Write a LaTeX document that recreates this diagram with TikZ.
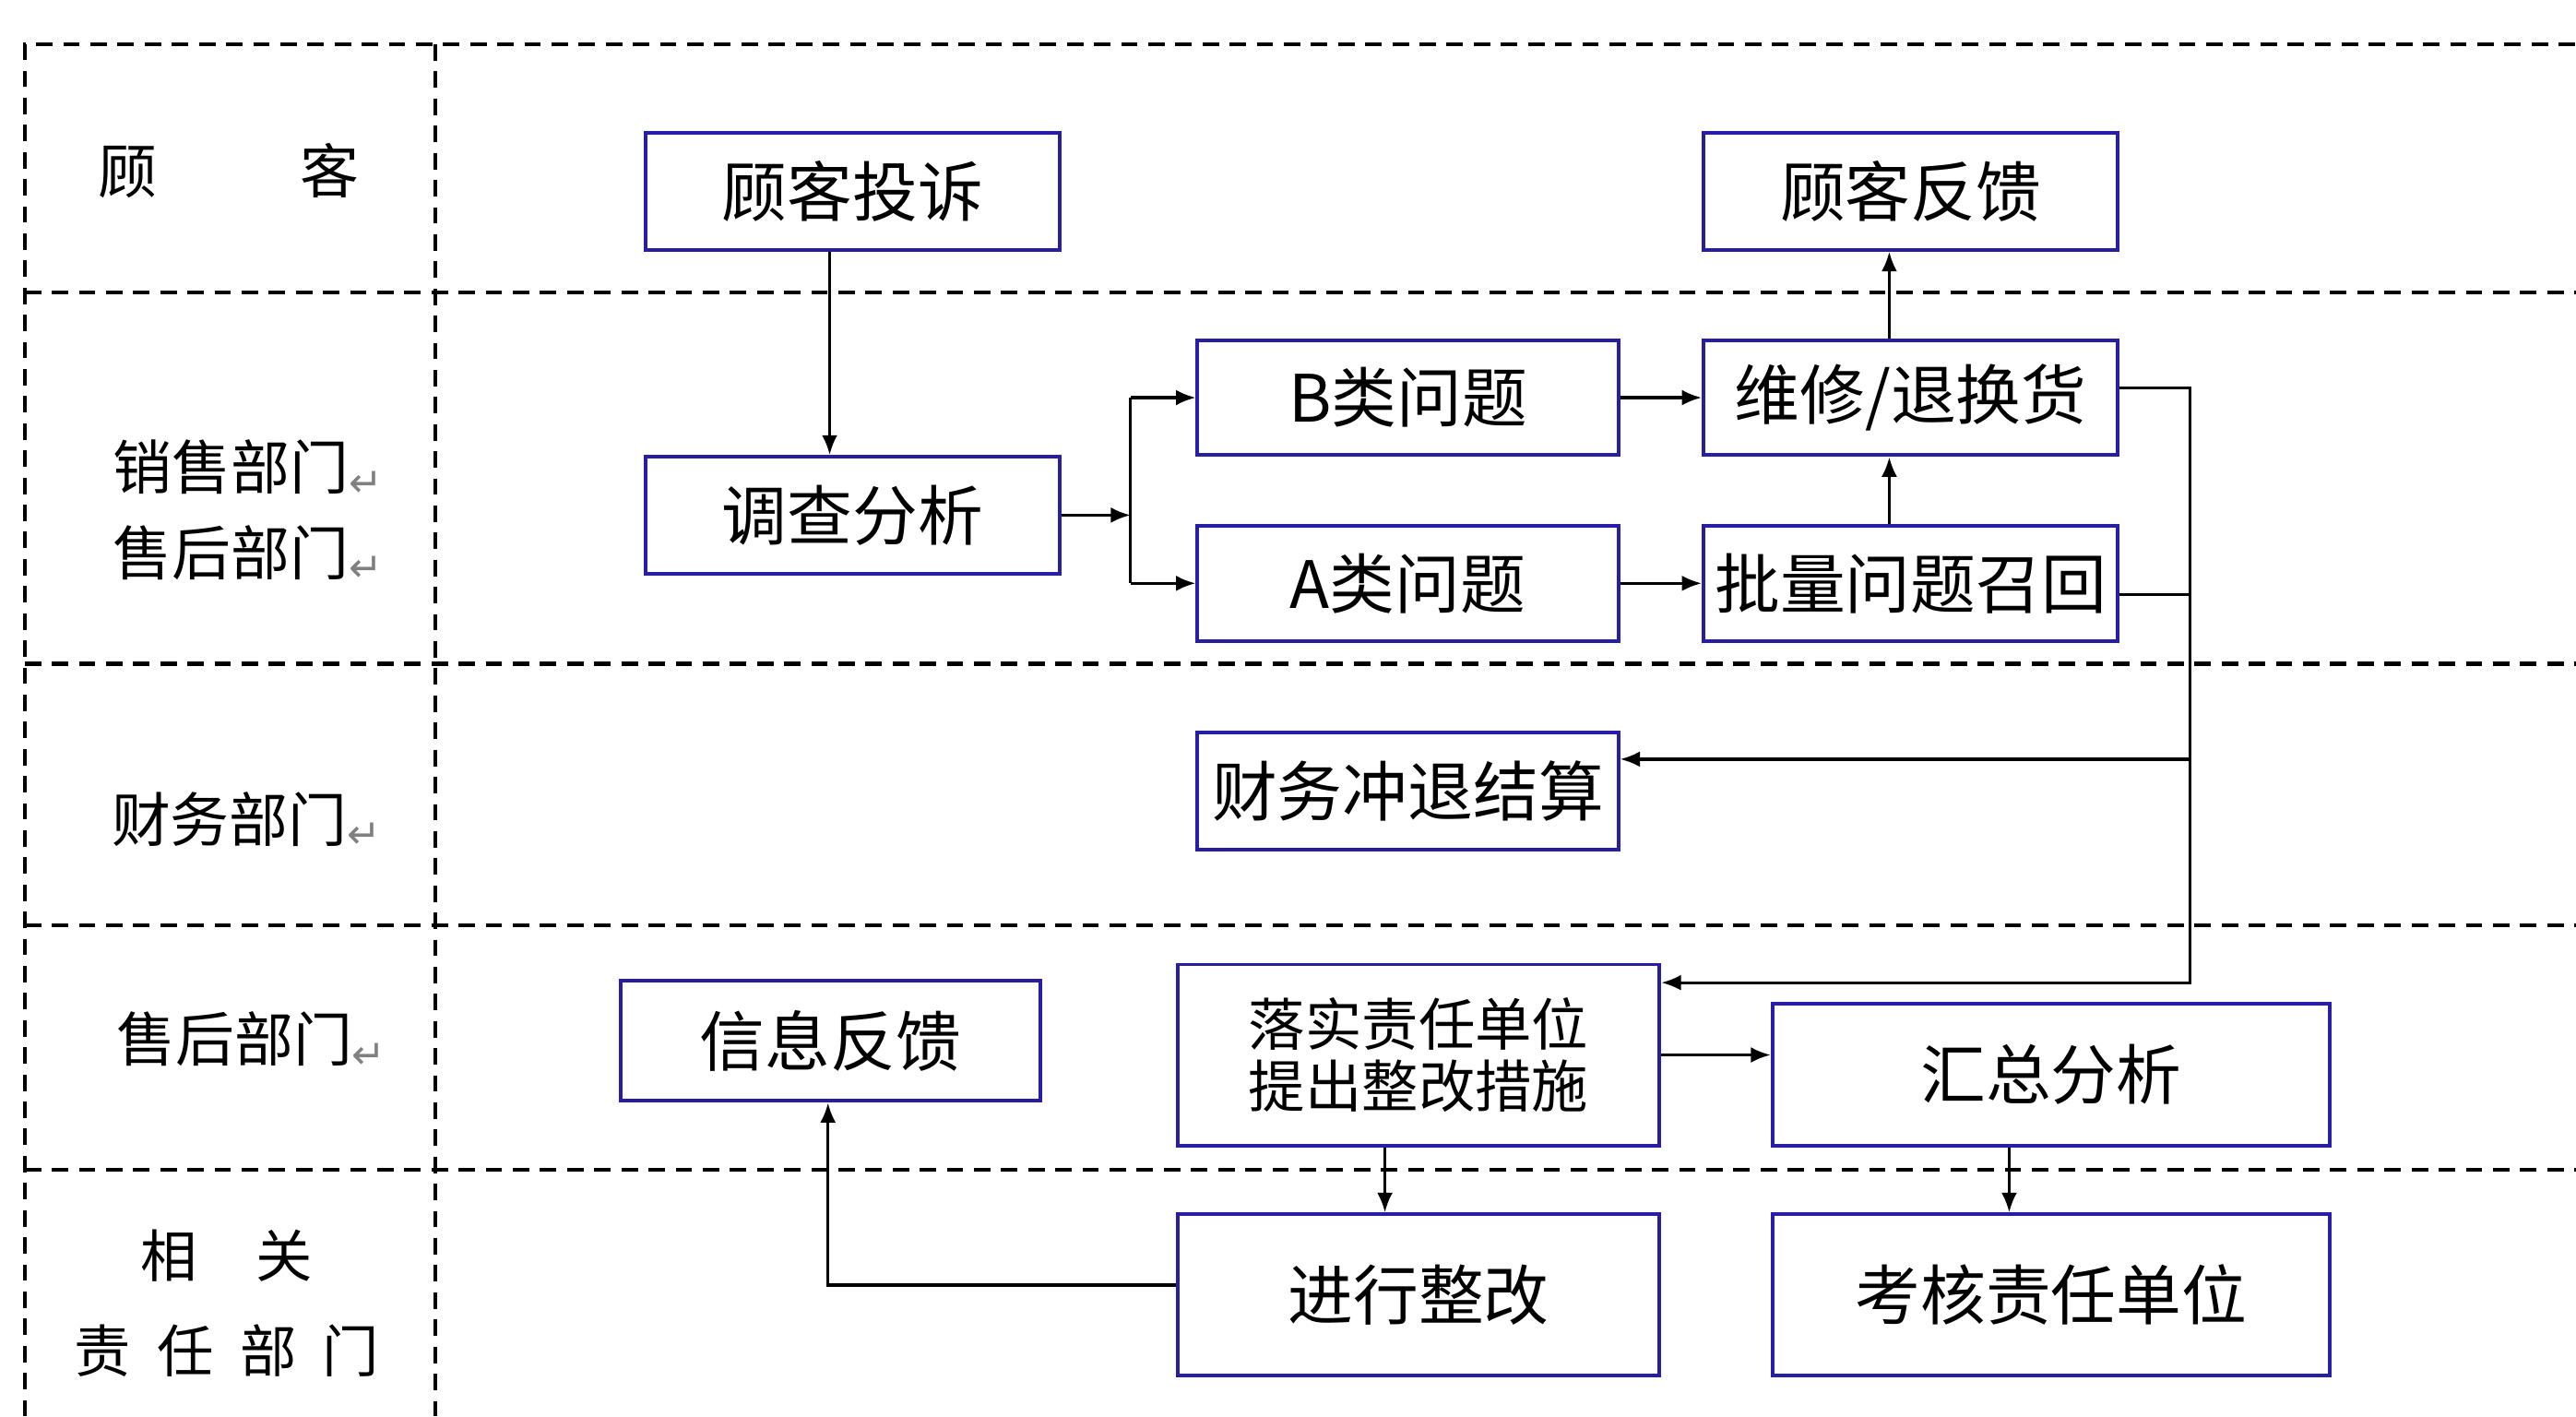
\documentclass[tikz,border=0pt]{standalone}
\usepackage{fontspec}
\setmainfont{Noto Sans CJK SC}
\newfontfamily\djv{DejaVu Sans}
\usetikzlibrary{arrows.meta,calc}
\definecolor{boxblue}{RGB}{40,30,165}
\newcommand{\pmark}{{\djv\fontsize{7pt}{8pt}\selectfont\color{gray}\raisebox{-0.3ex}{↵}}}
\begin{document}
\begin{tikzpicture}[x=0.01cm,y=-0.01cm,
  lane/.style={draw=black,line width=0.024cm,dash pattern=on 0.1cm off 0.065cm},
  box/.style={draw=boxblue,line width=0.022cm,fill=white,inner sep=0pt,align=center,
    minimum width=2.52cm,minimum height=0.71cm,font=\fontsize{11.3pt}{13pt}\selectfont},
  lbl/.style={inner sep=0pt,align=left,font=\fontsize{10.2pt}{14.8pt}\selectfont},
  conn/.style={line width=0.018cm},
  arr/.style={conn,-{Latex[length=0.12cm,width=0.095cm]}}]
\useasboundingbox (0,0) rectangle (1568,862);
\fill[white] (0,0) rectangle (1568,862);
% swimlane grid
\draw[lane] (15,862) -- (15,27) -- (1568,27);
\draw[lane] (265,27) -- (265,862);
\foreach \yy in {178,404,563,712}{\draw[lane] (15,\yy) -- (1568,\yy);}
% lane labels
\node[lbl] (lk) at (139,104) {顾\hspace{0.87cm}客};
\node[lbl] (ls) at (151,311) {销售部门\pmark\\售后部门\pmark};
\node[lbl] (lc) at (150,499) {财务部门\pmark};
\node[lbl] (lh) at (153,633) {售后部门\pmark};
\node[lbl,align=center,font=\fontsize{9.8pt}{16.5pt}\selectfont] (lr) at (138,793) {相\hspace{0.36cm}关\\责\hspace{0.16cm}任\hspace{0.16cm}部\hspace{0.16cm}门};
% boxes
\node[box] (tousu)  at (519,116.5) {顾客投诉};
\node[box] (fankui) at (1163,116.5) {顾客反馈};
\node[box] (diaocha) at (519,313.5) {调查分析};
\node[box,minimum width=2.56cm,minimum height=0.70cm] (bq) at (857,242) {B类问题};
\node[box,minimum height=0.70cm] (weixiu) at (1163,242) {维修/退换货};
\node[box,minimum width=2.56cm,minimum height=0.70cm] (aq) at (857,355) {A类问题};
\node[box,minimum height=0.70cm] (piliang) at (1163,355) {批量问题召回};
\node[box,minimum width=2.56cm] (caiwu) at (857,481.5) {财务冲退结算};
\node[box,minimum width=2.55cm,minimum height=0.73cm] (xinxi) at (505.5,633.5) {信息反馈};
\node[box,minimum width=2.93cm,minimum height=1.10cm,font=\fontsize{9.8pt}{10.6pt}\selectfont] (luoshi) at (863.5,642) {落实责任单位\\提出整改措施};
\node[box,minimum width=3.39cm,minimum height=0.86cm] (huizong) at (1248.5,654) {汇总分析};
\node[box,minimum width=2.93cm,minimum height=0.98cm] (jinxing) at (863.5,788) {进行整改};
\node[box,minimum width=3.39cm,minimum height=0.98cm] (kaohe) at (1248.5,788) {考核责任单位};
% connectors
\draw[arr] ($(tousu.south)+(-14,0)$) -- ($(diaocha.north)+(-14,0)$);
\coordinate (split) at ($(diaocha.east)+(42,0)$);
\draw[arr] (diaocha.east) -- (split);
\draw[conn] (split |- bq.west) -- (split |- aq.west);
\draw[arr] (split |- bq.west) -- (bq.west);
\draw[arr] (split |- aq.west) -- (aq.west);
\draw[arr] (bq.east) -- (weixiu.west);
\draw[arr] (aq.east) -- (piliang.west);
\draw[arr] ($(piliang.north)+(-13,0)$) -- ($(weixiu.south)+(-13,0)$);
\draw[arr] ($(weixiu.north)+(-13,0)$) -- ($(fankui.south)+(-13,0)$);
\coordinate (rtop) at ($(weixiu.east)+(43,-6)$);
\coordinate (rbot) at (rtop |- 0,598);
\draw[arr] ($(weixiu.east)+(0,-6)$) -- (rtop) -- (rbot) -- (rbot -| luoshi.east);
\draw[conn] ($(piliang.east)+(0,7)$) -- ($(piliang.east)+(43,7)$);
\draw[arr] ($(caiwu.east)+(347,-19.5)$) -- ($(caiwu.east)+(0,-19.5)$);
\draw[arr] (luoshi.east) -- (luoshi.east -| huizong.west);
\draw[arr] ($(luoshi.south)+(-20.5,0)$) -- ($(jinxing.north)+(-20.5,0)$);
\draw[arr] ($(huizong.south)+(-25.5,0)$) -- ($(kaohe.north)+(-25.5,0)$);
\coordinate (lb) at ($(xinxi.south)+(-1.5,0)$);
\draw[arr] ($(jinxing.west)+(0,-6)$) -- (lb |- 0,782) -- (lb);
\end{tikzpicture}
\end{document}
